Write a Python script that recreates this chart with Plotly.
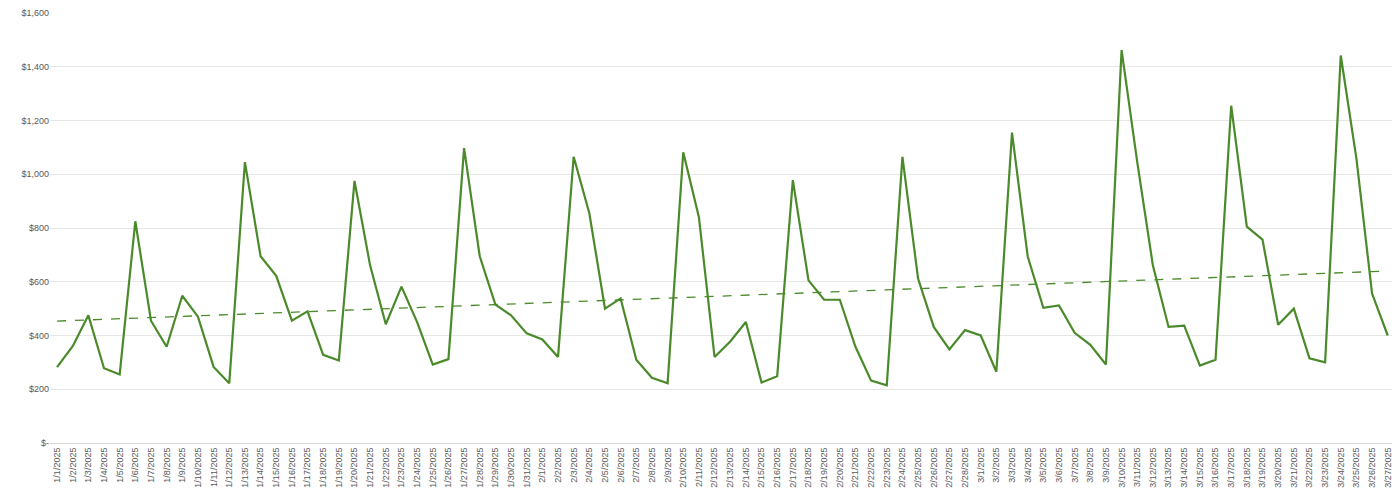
import numpy as np
import pandas as pd
import plotly.graph_objects as go

dates = pd.date_range("2025-01-01", "2025-03-27", freq="D")
date_labels = [f"{d.month}/{d.day}/{d.year}" for d in dates]

sales = [282, 360, 475, 278, 255, 825, 455, 358, 548, 470, 283, 222, 1045, 695, 622, 455,
         490, 328, 307, 975, 660, 442, 582, 450, 292, 312, 1097, 695, 515, 475, 408,
         385, 320, 1065, 855, 500, 538, 310, 243, 222, 1082, 840, 320, 378, 450, 225,
         248, 978, 605, 533, 533, 358, 232, 215, 1065, 612, 432, 348, 420,
         400, 265, 1155, 695, 503, 512, 410, 365, 292, 1462, 1045, 660, 432, 437, 288,
         310, 1255, 805, 757, 440, 500, 315, 300, 1442, 1058, 556, 400]

y_ticks = [0, 200, 400, 600, 800, 1000, 1200, 1400, 1600]
y_tick_text = ["$-"] + [f"${v:,}" for v in y_ticks[1:]]

idx = np.arange(len(sales))
slope, intercept = np.polyfit(idx, sales, 1)
trend = slope * idx + intercept

fig = go.Figure()
fig.add_trace(go.Scatter(x=date_labels, y=sales, mode="lines",
                         line=dict(color="#4a8a2a", width=2.2), showlegend=False))
fig.add_trace(go.Scatter(x=date_labels, y=trend, mode="lines",
                         line=dict(color="#4a8a2a", width=1.3, dash="dash"), showlegend=False))

fig.update_layout(
    width=1400, height=489,
    margin=dict(l=42, r=14, t=5, b=54),
    plot_bgcolor="white", paper_bgcolor="white",
    font=dict(family="Liberation Sans, Arial", size=9, color="#595959"),
    xaxis=dict(type="category", tickangle=-90, showgrid=False, showline=True,
               linecolor="#d9d9d9", ticks="", automargin=False,
               range=[-0.45, len(sales) - 0.6]),
    yaxis=dict(range=[0, 1600], tickvals=y_ticks, ticktext=y_tick_text, automargin=False,
               showgrid=True, gridcolor="#e6e6e6", zeroline=False, ticks=""),
)
fig.write_html("out.html")
